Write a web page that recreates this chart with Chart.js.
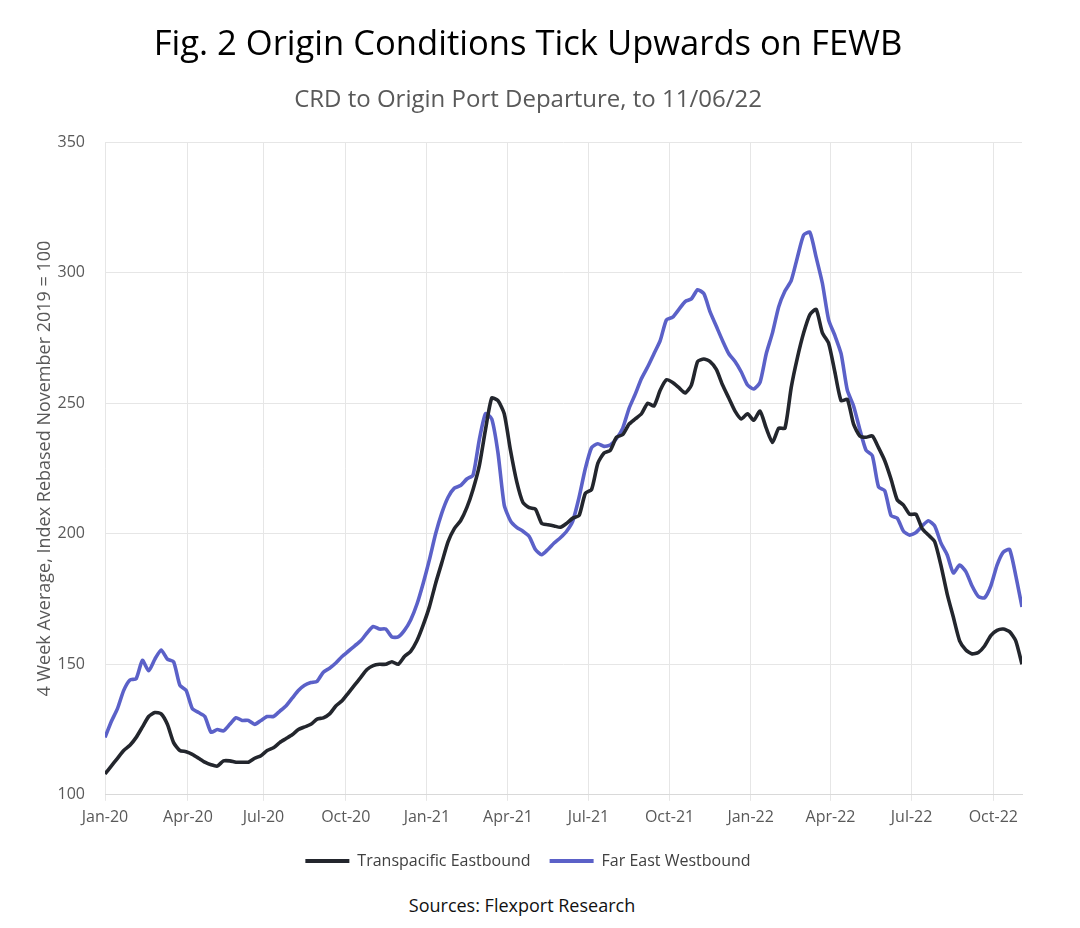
<!DOCTYPE html>
<html>
<head>
<meta charset="utf-8">
<script src="https://cdn.jsdelivr.net/npm/chart.js@4.4.0/dist/chart.umd.min.js"></script>
<style>
  html, body { margin: 0; padding: 0; background: #fff; }
  #wrap { position: relative; width: 1044px; height: 928px; }
  #source { position: absolute; left: 0; width: 1044px; top: 893px; text-align: center;
            font: 18px "Open Sans", sans-serif; color: #111; }
</style>
</head>
<body>
<div id="wrap">
  <canvas id="chart" width="1044" height="879"></canvas>
  <div id="source">Sources: Flexport Research</div>
</div>
<script>
// weekly readings, Jan 2020 to 6 Nov 2022
const transpacificEB = [
  108, 111, 114, 117, 119, 122, 126, 130, 131.5, 131,
  127, 120, 117, 116.5, 115.5, 114, 112.5, 111.5, 111, 113,
  113, 112.5, 112.5, 112.5, 114, 115, 117, 118, 120, 121.5,
  123, 125, 126, 127, 129, 129.5, 131, 134, 136, 139,
  142, 145, 148, 149.5, 150, 150, 151, 150, 153, 155,
  159, 165, 172, 181, 189, 197, 202, 205, 210, 217,
  226, 240, 252, 251, 246, 232, 220, 212, 210, 209.5,
  204, 203.5, 203, 202.5, 204, 206, 207, 215.5, 217, 227,
  231, 232, 237, 238, 242, 244, 246, 250, 249, 255,
  259, 258, 256, 254, 257, 266, 267, 266, 263, 257,
  252, 247, 244, 246, 243.5, 247, 240.5, 235, 240.5, 240.5,
  256, 267.5, 277, 284, 286, 277, 273, 262, 251, 251.5,
  242, 237.5, 237, 237.5, 233, 228, 221, 213, 211, 207.5,
  207.5, 202, 199.5, 197, 188, 177, 168, 159, 155.5, 154,
  154.5, 157, 161, 163, 163.5, 162.5, 159, 150
];
const farEastWB = [
  122, 128, 133, 140, 144, 144.5, 151.5, 147.5, 152, 155.5,
  152, 151, 142, 140, 133, 131.5, 130, 124, 125, 124.5,
  127, 129.5, 128.5, 128.5, 127, 128.5, 130, 130, 132, 134,
  137, 140, 142, 143, 143.5, 147, 148.5, 150.5, 153, 155,
  157, 159, 162, 164.5, 163.5, 163.5, 160.5, 160.5, 163, 167,
  173, 181, 190, 200, 208, 214, 217.5, 218.5, 221, 222.5,
  236, 246, 244, 231, 211, 205, 202.5, 201, 199, 194,
  192, 194, 196.5, 198.5, 201, 205, 214, 225, 233, 234.5,
  233.5, 234, 236.5, 240.5, 248, 253.5, 259.5, 264, 269, 274,
  282, 283, 286, 289, 290, 293.5, 292, 285, 279.5, 274,
  269, 266, 262, 257, 255.5, 258, 269, 277, 287, 293,
  297, 306, 314.5, 315.5, 306, 296, 282, 276, 269, 255,
  249, 240, 232, 230, 218, 216.5, 207, 206, 201, 199.5,
  200.5, 203, 205, 203, 196.5, 192, 185, 188, 185.5, 180,
  176, 175.5, 180, 188, 193, 194, 184, 172
];
const tickLabels = ['Jan-20', 'Apr-20', 'Jul-20', 'Oct-20', 'Jan-21', 'Apr-21',
  'Jul-21', 'Oct-21', 'Jan-22', 'Apr-22', 'Jul-22', 'Oct-22'];
const tickWeeks = [0, 13.3, 25.4, 38.6, 51.6, 64.6, 77.5, 90.5, 103.5, 116.3, 129.3, 142.4];

const gray = '#595959';
const font = '"Open Sans", sans-serif';

new Chart('chart', {
    type: 'line',
    data: {
        datasets: [{
            label: 'Transpacific Eastbound',
            data: transpacificEB.map((v, i) => ({ x: i, y: v })),
            borderColor: '#23262d',
            backgroundColor: '#23262d',
            borderWidth: 3.6,
            pointRadius: 0,
            tension: 0.2
        }, {
            label: 'Far East Westbound',
            data: farEastWB.map((v, i) => ({ x: i, y: v })),
            borderColor: '#5b61c8',
            backgroundColor: '#5b61c8',
            borderWidth: 3.6,
            pointRadius: 0,
            tension: 0.2
        }]
    },
    options: {
        responsive: false,
        animation: false,
        layout: { padding: { left: 34, right: 22, top: 0, bottom: 0 } },
        plugins: {
            title: {
                display: true,
                text: 'Fig. 2 Origin Conditions Tick Upwards on FEWB',
                color: '#000',
                font: { family: font, size: 34.6, weight: 'normal' },
                padding: { top: 24, bottom: 20 }
            },
            subtitle: {
                display: true,
                text: 'CRD to Origin Port Departure, to 11/06/22',
                color: gray,
                font: { family: font, size: 24 },
                padding: { top: 0, bottom: 28 }
            },
            legend: {
                position: 'bottom',
                labels: {
                    color: '#404040',
                    font: { family: font, size: 16 },
                    boxWidth: 44,
                    boxHeight: 4,
                    padding: 19,
                    generateLabels: chart => Chart.defaults.plugins.legend.labels.generateLabels(chart)
                        .map(l => ({ ...l, lineWidth: 0, fillStyle: l.strokeStyle }))
                }
            },
            tooltip: { enabled: false }
        },
        scales: {
            x: {
                type: 'linear',
                min: 0,
                max: transpacificEB.length - 1,
                afterBuildTicks: axis => { axis.ticks = tickWeeks.map(v => ({ value: v })); },
                ticks: {
                    color: gray,
                    font: { family: font, size: 16 },
                    maxRotation: 0,
                    padding: 7,
                    callback: (value, index) => tickLabels[index]
                },
                grid: { color: '#e6e6e6', tickLength: 6 },
                border: { color: '#d9d9d9' }
            },
            y: {
                min: 100,
                max: 350,
                afterFit: scale => { scale.width = 71; },
                ticks: {
                    stepSize: 50,
                    color: gray,
                    font: { family: font, size: 16 },
                    padding: 20
                },
                grid: { color: '#e6e6e6', drawTicks: false },
                border: { display: false },
                title: {
                    display: true,
                    text: '4 Week Average, Index Rebased November 2019 = 100',
                    color: gray,
                    font: { family: font, size: 18 },
                    padding: { top: 0, bottom: 0 }
                }
            }
        }
    }
});
</script>
</body>
</html>
